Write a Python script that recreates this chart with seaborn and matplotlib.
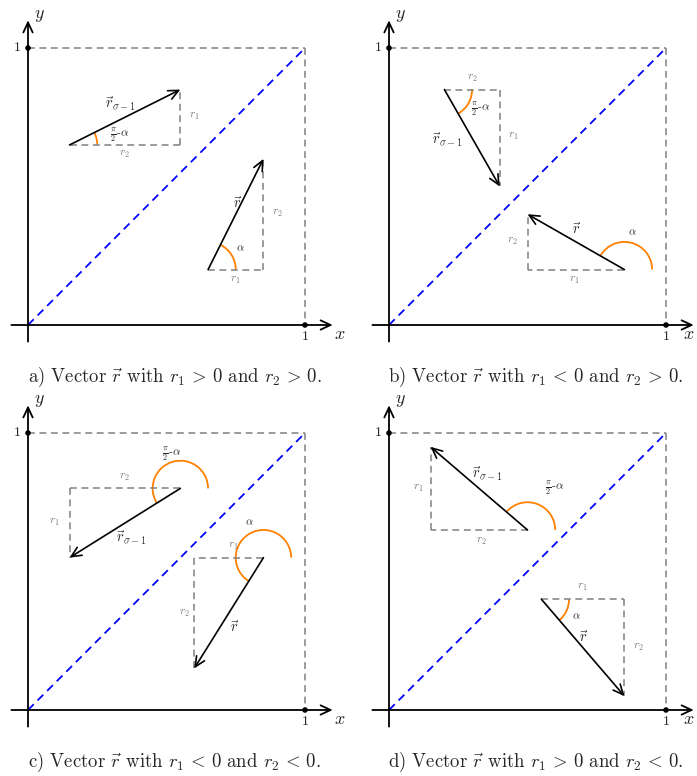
import numpy as np
import pandas as pd
import seaborn as sns
import matplotlib.pyplot as plt
from matplotlib.patches import Arc

# Panels: vector r = (r1, r2) and its swap r_sigma^-1 = (r2, r1)
panels = ["a", "b", "c", "d"]
r_start = [(0.65, 0.20), (0.85, 0.20), (0.85, 0.55), (0.55, 0.40)]
r_vec = [(0.20, 0.40), (-0.35, 0.20), (-0.25, -0.40), (0.30, -0.35)]
s_start = [(0.15, 0.65), (0.20, 0.85), (0.55, 0.80), (0.50, 0.65)]
captions = [
    r"a) Vector $\vec{r}$ with $r_1 \,>\, 0$ and $r_2 \,>\, 0$.",
    r"b) Vector $\vec{r}$ with $r_1 \,<\, 0$ and $r_2 \,>\, 0$.",
    r"c) Vector $\vec{r}$ with $r_1 \,<\, 0$ and $r_2 \,<\, 0$.",
    r"d) Vector $\vec{r}$ with $r_1 \,>\, 0$ and $r_2 \,<\, 0$.",
]
# label positions
lab_r = [(0.755, 0.44), (0.677, 0.345), (0.747, 0.30), (0.703, 0.262)]
lab_s = [(0.333, 0.80), (0.21, 0.668), (0.374, 0.623), (0.356, 0.854)]
lab_alpha = [(0.768, 0.277), (0.88, 0.333), (0.80, 0.675), (0.676, 0.336)]
lab_beta = [(0.33, 0.683), (0.33, 0.776), (0.52, 0.92), (0.597, 0.798)]
# gray side labels: (r1 of r, r2 of r, r1 of sigma, r2 of sigma)
lab_r1 = [(0.747, 0.162), (0.669, 0.162), (0.74, 0.59), (0.70, 0.443)]
lab_r2 = [(0.90, 0.403), (0.447, 0.30), (0.565, 0.35), (0.90, 0.225)]
lab_s1 = [(0.60, 0.752), (0.45, 0.68), (0.094, 0.676), (0.105, 0.80)]
lab_s2 = [(0.348, 0.614), (0.30, 0.89), (0.35, 0.84), (0.332, 0.61)]

# pixel origin of each panel (x, y from top), px per unit
origins = [(28, 325), (389, 325), (28, 710), (389, 710)]
scale = 277
W, H = 697, 776

sns.set_theme(style="white")
plt.rcParams["mathtext.fontset"] = "cm"
plt.rcParams["font.family"] = ["cmr10", "DejaVu Serif"]
plt.rcParams["axes.unicode_minus"] = False

fig = plt.figure(figsize=(W / 100, H / 100), dpi=100)

xl, xh, yl, yh = -0.07, 1.12, -0.07, 1.17
gray = "#808080"
orange = "#FF8000"
dash = (0, (4.5, 3))


def seg(ax, p, q, color, lw=1.1):
    d = pd.DataFrame({"x": [p[0], q[0]], "y": [p[1], q[1]]})
    sns.lineplot(data=d, x="x", y="y", ax=ax, color=color, lw=lw,
                 linestyle=dash, sort=False, estimator=None)


def arrow(ax, p, q, lw=1.2):
    ax.annotate("", xy=q, xytext=p,
                arrowprops=dict(arrowstyle="->,head_length=0.6,head_width=0.28",
                                color="black", lw=lw, shrinkA=0, shrinkB=0),
                annotation_clip=False)


def angle_arc(ax, p, v):
    th = np.degrees(np.arctan2(v[1], v[0]))
    if v[0] < 0 and th < 0:
        th += 360
    ax.add_patch(Arc(p, 0.2, 0.2, theta1=min(0, th), theta2=max(0, th),
                     color=orange, lw=1.3))


for i, name in enumerate(panels):
    ox, oy = origins[i]
    left = (ox + xl * scale) / W
    bottom = (H - (oy - yl * scale)) / H
    ax = fig.add_axes([left, bottom, (xh - xl) * scale / W, (yh - yl) * scale / H])
    ax.set_xlim(xl, xh)
    ax.set_ylim(yl, yh)
    ax.axis("off")

    # coordinate axes
    arrow(ax, (-0.06, 0), (1.10, 0), lw=1.3)
    arrow(ax, (0, -0.06), (0, 1.10), lw=1.3)
    if ox < 100:
        ax.text(1.105, -0.035, "$x$", fontsize=13, ha="left", va="center")
    else:
        ax.text(1.104, -0.035, "$x$", fontsize=13, ha="right", va="center")
    ax.text(0.02, 1.115, "$y$", fontsize=13, ha="left", va="center")
    ax.text(-0.025, 1.0, "1", fontsize=10, ha="right", va="center")
    ax.text(1.0, -0.022, "1", fontsize=10, ha="center", va="top")
    sns.scatterplot(x=[0, 1], y=[1, 0], ax=ax, color="black", s=16,
                    edgecolor="none", zorder=5)

    # unit square and diagonal
    seg(ax, (0, 1), (1, 1), gray)
    seg(ax, (1, 1), (1, 0), gray)
    seg(ax, (0, 0), (1, 1), "blue", lw=1.3)

    # vector r
    p = r_start[i]
    v = r_vec[i]
    q = (p[0] + v[0], p[1] + v[1])
    seg(ax, p, (q[0], p[1]), gray)
    seg(ax, (q[0], p[1]), q, gray)
    angle_arc(ax, p, v)
    arrow(ax, p, q)

    # vector r_sigma^-1 (components swapped)
    ps = s_start[i]
    vs = (v[1], v[0])
    qs = (ps[0] + vs[0], ps[1] + vs[1])
    seg(ax, ps, (qs[0], ps[1]), gray)
    seg(ax, (qs[0], ps[1]), qs, gray)
    angle_arc(ax, ps, vs)
    arrow(ax, ps, qs)

    # labels
    ax.text(*lab_r[i], r"$\vec{r}$", fontsize=10.5, ha="center", va="center")
    ax.text(*lab_s[i], r"$\vec{r}_{\sigma-1}$", fontsize=10.5, ha="center", va="center")
    ax.text(*lab_alpha[i], r"$\alpha$", fontsize=8, ha="center", va="center")
    ax.text(*lab_beta[i], r"$\frac{\pi}{2}$-$\alpha$", fontsize=8.5, ha="center", va="center")
    for pos, s in [(lab_r1[i], "$r_1$"), (lab_r2[i], "$r_2$"),
                   (lab_s1[i], "$r_1$"), (lab_s2[i], "$r_2$")]:
        ax.text(*pos, s, fontsize=8.5, color=gray, ha="center", va="center")

    ax.text(0.53, -0.19, captions[i], fontsize=13.5, ha="center", va="center")

fig.savefig("out.png", dpi=100)
